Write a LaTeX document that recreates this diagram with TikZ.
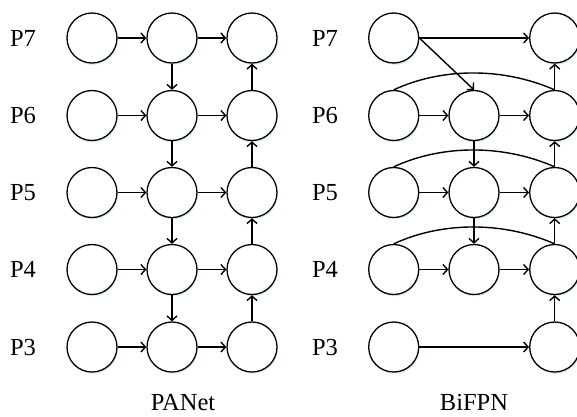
\documentclass[tikz,border=0pt]{standalone}
\usepackage{fontspec}
\setmainfont{Liberation Serif}
\usetikzlibrary{arrows.meta,shadows}
\begin{document}
\begin{tikzpicture}[x=1pt,y=-1pt,
  nd/.style={circle,draw,line width=1.3pt,minimum size=50pt,inner sep=0pt,fill=white,
    drop shadow={shadow xshift=0.8pt,shadow yshift=-1.8pt,fill=blue!35!cyan,opacity=0.18}},
  lbl/.style={font=\fontsize{24.5}{28}\selectfont,anchor=center},
  captxt/.style={font=\fontsize{24.5}{28}\selectfont,anchor=base,inner sep=0pt},
  ar/.style={line width=1.4pt,-{Straight Barb[length=4.5pt,width=10pt,line width=1.4pt]}},
  cv/.style={line width=1.4pt}]
\useasboundingbox (0,0) rectangle (577,416);
% rows
\def\ya{38}\def\yb{115.5}\def\yc{192.5}\def\yd{269.5}\def\ye{347}
% PANet
\foreach \r/\y in {7/\ya,6/\yb,5/\yc,4/\yd,3/\ye}{
  \node[lbl] (pl\r) at (23,\y) {P\r};
  \node[nd] (a\r) at (92,\y) {};
  \node[nd] (b\r) at (172,\y) {};
  \node[nd] (c\r) at (252,\y) {};
  \node[lbl] (ql\r) at (325,\y) {P\r};
}
\foreach \r in {7,6,5,4,3}{
  \draw[ar] (a\r) -- (b\r);
  \draw[ar] (b\r) -- (c\r);
}
\draw[ar] (b7) -- (b6);
\draw[ar] (b6) -- (b5);
\draw[ar] (b5) -- (b4);
\draw[ar] (b4) -- (b3);
\draw[ar] (c3) -- (c4);
\draw[ar] (c4) -- (c5);
\draw[ar] (c5) -- (c6);
\draw[ar] (c6) -- (c7);
\node[captxt] (pan) at (183,410.5) {PANet};
% BiFPN
\node[nd] (d7) at (393.7,\ya) {};
\node[nd] (f7) at (554.7,\ya) {};
\foreach \r/\y in {6/\yb,5/\yc,4/\yd}{
  \node[nd] (d\r) at (393.7,\y) {};
  \node[nd] (e\r) at (474,\y) {};
  \node[nd] (f\r) at (554.7,\y) {};
}
\node[nd] (d3) at (393.7,\ye) {};
\node[nd] (f3) at (554.7,\ye) {};
\draw[ar] (d7) -- (f7);
\draw[ar] (d7.east) -- (e6.north);
\foreach \r in {6,5,4}{
  \draw[ar] (d\r) -- (e\r);
  \draw[ar] (e\r) -- (f\r);
  \draw[cv] (d\r.north) .. controls ([xshift=45pt,yshift=21pt]d\r.north) and ([xshift=-55pt,yshift=24pt]f\r.north) .. (f\r.north);
}
\draw[ar] (d3) -- (f3);
\draw[ar] (e6) -- (e5);
\draw[ar] (e5) -- (e4);
\draw[ar] (f3) -- (f4);
\draw[ar] (f4) -- (f5);
\draw[ar] (f5) -- (f6);
\draw[ar] (f6) -- (f7);
\node[captxt] (bif) at (474,410.5) {BiFPN};
\end{tikzpicture}
\end{document}
